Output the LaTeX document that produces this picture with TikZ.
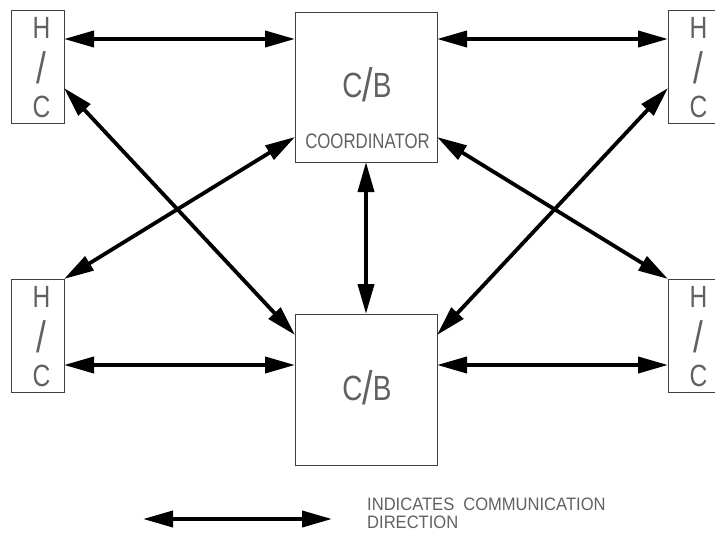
\documentclass[tikz,border=0pt]{standalone}
\usepackage{fontspec}
\setmainfont{Liberation Sans}
\newfontfamily\cadfont[FakeStretch=0.8]{Liberation Sans}
\newfontfamily\cadwide[FakeStretch=0.92]{Liberation Sans}
\usetikzlibrary{arrows.meta}
\begin{document}
\begin{tikzpicture}[x=1pt,y=-1pt,
  box/.style={draw=black!75, line width=0.8pt, inner sep=0pt, outer sep=0pt},
  hcbox/.style={box, minimum width=53pt, minimum height=113pt},
  cbbox/.style={box, minimum width=142pt, minimum height=150pt},
  lbl/.style={text=black!62, inner sep=0pt, anchor=base},
  hcletter/.style={lbl, font=\cadfont\fontsize{30.7}{30.7}\selectfont},
  hcslash/.style={lbl, font=\cadfont\fontsize{44}{44}\selectfont},
  cbtext/.style={lbl, font=\cadfont\fontsize{35}{35}\selectfont},
  smalltext/.style={lbl, font=\cadfont\fontsize{21}{21}\selectfont},
  legendtext/.style={lbl, anchor=base west, font=\cadwide\fontsize{18}{18}\selectfont},
  link/.style={line width=3.8pt, {Triangle[length=30pt,width=16pt]}-{Triangle[length=30pt,width=16pt]}}]
\useasboundingbox (0,0) rectangle (715,533);

% boxes
\node[hcbox] (hctl) at (37.5,66.5) {};
\node[hcbox] (hctr) at (694.5,66.5) {};
\node[hcbox] (hcbl) at (37.5,335.5) {};
\node[hcbox] (hcbr) at (694.5,335.5) {};
\node[cbbox] (cbt) at (366,87) {};
\node[cbbox, minimum height=151pt] (cbb) at (366,389.5) {};

% H/C labels
\node[hcletter] (tlh) at (41.5,38) {H};
\node[hcslash]  (tls) at (41.5,83) {/};
\node[hcletter] (tlc) at (41.5,117) {C};
\node[hcletter] (blh) at (41.5,307) {H};
\node[hcslash]  (bls) at (41.5,352) {/};
\node[hcletter] (blc) at (41.5,386) {C};
\node[hcletter] (trh) at (698.5,38) {H};
\node[hcslash]  (trs) at (698.5,83) {/};
\node[hcletter] (trc) at (698.5,117) {C};
\node[hcletter] (brh) at (698.5,307) {H};
\node[hcslash]  (brs) at (698.5,352) {/};
\node[hcletter] (brc) at (698.5,386) {C};

% C/B labels
\node[cbtext] (cbtl) at (367,97) {C\raisebox{-4pt}{\fontsize{47}{47}\selectfont/}B};
\node[smalltext] (coord) at (367.5,148) {COORDINATOR};
\node[cbtext] (cbbl) at (367,400) {C\raisebox{-4pt}{\fontsize{47}{47}\selectfont/}B};

% connectors
\draw[link] ([yshift=-29pt]hctl.north east) -- ([yshift=-27pt]cbt.north west);
\draw[link] ([yshift=-27pt]cbt.north east) -- ([yshift=-29pt]hctr.north west);
\draw[link] ([yshift=-86pt]hcbl.north east) -- ([yshift=-51pt]cbb.north west);
\draw[link] ([yshift=-51pt]cbb.north east) -- ([yshift=-86pt]hcbr.north west);
\draw[link] (cbt.south) -- (cbb.north);
\draw[link] ([yshift=-78pt]hctl.north east) -- ([yshift=-21pt]cbb.north west);
\draw[link] (hcbl.north east) -- ([yshift=-125pt]cbt.north west);
\draw[link] ([yshift=-125pt]cbt.north east) -- (hcbr.north west);
\draw[link] ([yshift=-21pt]cbb.north east) -- ([yshift=-78pt]hctr.north west);

% legend
\coordinate (legA) at (143,519);
\coordinate (legB) at (332,519);
\draw[link] (legA) -- (legB);
\node[legendtext] (leg1) at (367,510) {INDICATES\hspace{9pt}COMMUNICATION};
\node[legendtext] (leg2) at (367,528.5) {DIRECTION};
\end{tikzpicture}
\end{document}
